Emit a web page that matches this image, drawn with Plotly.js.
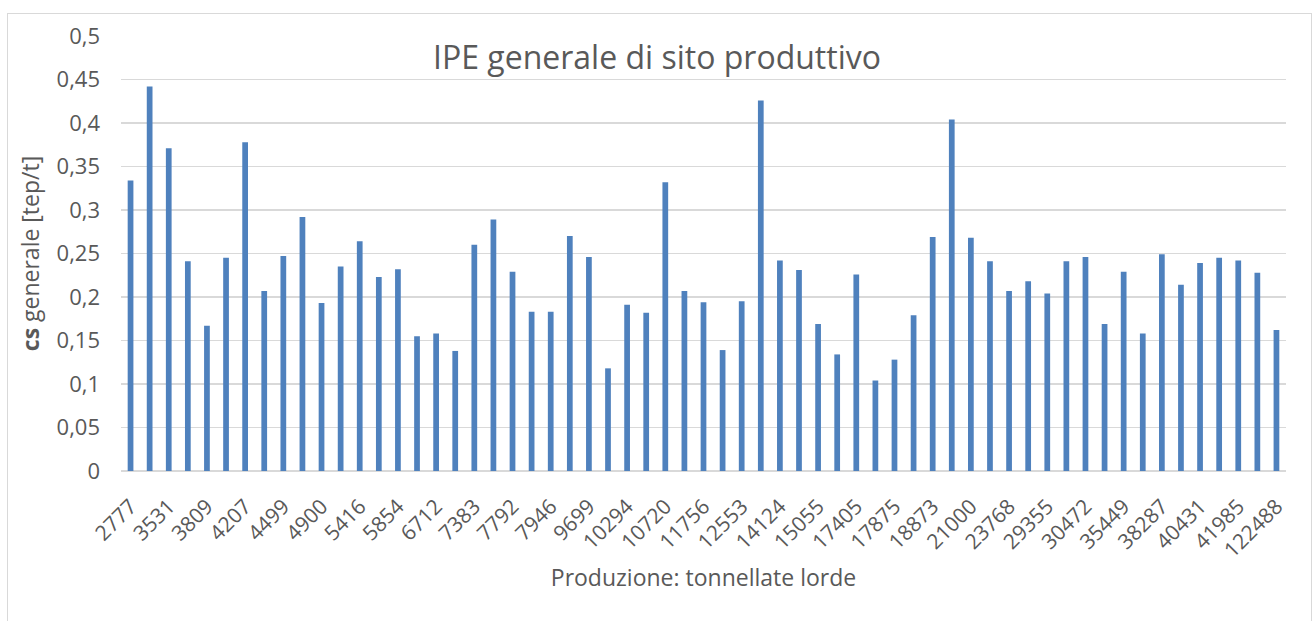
<!DOCTYPE html>
<html>
<head>
<meta charset="utf-8">
<script src="https://cdn.plot.ly/plotly-3.0.1.min.js"></script>
<style>
  html, body { margin: 0; padding: 0; background: #ffffff; overflow: hidden; }
  #frame { position: absolute; left: 7px; top: 13px; width: 1305px; height: 640px; border: 1.5px solid #d9d9d9; box-sizing: border-box; }
  #chart { position: absolute; left: 0; top: 0; width: 1314px; height: 621px; }
</style>
</head>
<body>
<div id="frame"></div>
<div id="chart"></div>
<script>
// Tick labels (production, gross tonnes) shown on every other category
const tickLabels = ["2777","3531","3809","4207","4499","4900","5416","5854","6712","7383",
  "7792","7946","9699","10294","10720","11756","12553","14124","15055","17405",
  "17875","18873","21000","23768","29355","30472","35449","38287","40431","41985","122488"];

// cs generale [tep/t], one value per site, ordered by production
const csValues = [0.334,0.442,0.371,0.241,0.167,0.245,0.378,0.207,0.247,0.292,
  0.193,0.235,0.264,0.223,0.232,0.155,0.158,0.138,0.260,0.289,
  0.229,0.183,0.183,0.270,0.246,0.118,0.191,0.182,0.332,0.207,
  0.194,0.139,0.195,0.426,0.242,0.231,0.169,0.134,0.226,0.104,
  0.128,0.179,0.269,0.404,0.268,0.241,0.207,0.218,0.204,0.241,
  0.246,0.169,0.229,0.158,0.249,0.214,0.239,0.245,0.242,0.228,0.162];

const chartTitle = "IPE generale di sito produttivo";
const xTitle = "Produzione: tonnellate lorde";
const yTitle = "<b>cs</b> generale [tep/t]";

const idx = csValues.map((v, i) => i);
const tickPos = tickLabels.map((t, j) => j * 2);

const font = "Open Sans, sans-serif";
const grey = "#595959";

Plotly.newPlot("chart", [{
  type: "bar",
  x: idx,
  y: csValues,
  marker: { color: "#4f81bd", line: { width: 0 } },
  hoverinfo: "skip"
}], {
  width: 1314, height: 621,
  paper_bgcolor: "rgba(0,0,0,0)",
  plot_bgcolor: "rgba(0,0,0,0)",
  separators: ",.",
  margin: { l: 121, r: 28, t: 36, b: 150 },
  bargap: 0.7,
  showlegend: false,
  font: { family: font, color: grey },
  title: {
    text: chartTitle,
    font: { family: font, size: 32, color: grey },
    x: 0.5, xref: "container", xanchor: "center",
    y: 1 - 58/621, yref: "container", yanchor: "middle"
  },
  xaxis: {
    range: [-0.5, csValues.length - 0.5],
    tickmode: "array",
    tickvals: tickPos,
    ticktext: tickLabels,
    tickangle: -45,
    tickfont: { family: font, size: 21, color: grey },
    ticklabelstandoff: 18,
    showgrid: false,
    zeroline: false,
    showline: false,
    ticks: "",
    title: { text: xTitle, font: { family: font, size: 23, color: grey }, standoff: 7 }
  },
  yaxis: {
    range: [0, 0.5],
    dtick: 0.05,
    tick0: 0,
    tickfont: { family: font, size: 22, color: grey },
    showgrid: true,
    gridcolor: "#d9d9d9",
    gridwidth: 1.3,
    zeroline: true,
    zerolinecolor: "#d9d9d9",
    zerolinewidth: 1.3,
    showline: false,
    ticks: "",
    ticklabelstandoff: 20,
    title: { text: yTitle, font: { family: font, size: 23, color: grey }, standoff: 10 }
  }
}, { displayModeBar: false, staticPlot: true });
</script>
</body>
</html>
